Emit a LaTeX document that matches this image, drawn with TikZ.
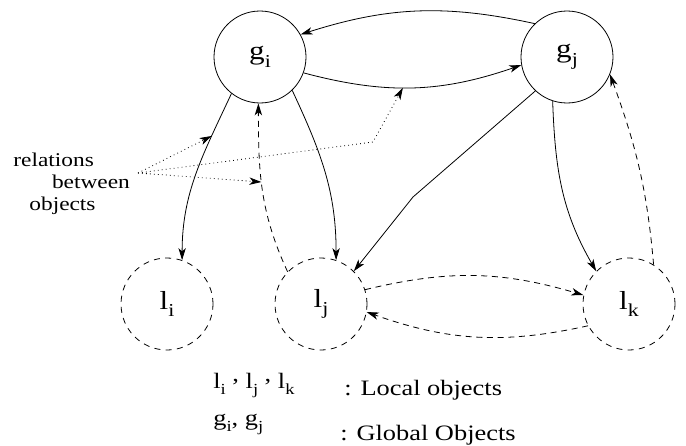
\documentclass[tikz,border=0pt]{standalone}
\usepackage{graphicx}
\usepackage{fontspec}
\setmainfont{Liberation Serif}[FakeStretch=1.2]
\usetikzlibrary{arrows.meta}
\newcommand{\lsub}[1]{\raisebox{-.3em}{\scalebox{.7}{#1}}}

\begin{document}
\begin{tikzpicture}[x=0.75pt, y=0.75pt, ->, >={Stealth[length=9pt,width=5.5pt,inset=2.5pt]}, node distance=231pt, line width=0.6pt]
\tikzstyle{gnd}=[circle,draw=black,minimum size=69pt,inner sep=0pt,font=\fontsize{19.5}{23}\selectfont]
\tikzstyle{lnd}=[gnd,dash pattern=on 4.5pt off 4pt]
\tikzstyle{rl}=[dash pattern=on 4.5pt off 3.5pt]
\tikzstyle{dt}=[dash pattern=on 0.6pt off 2.4pt]
\tikzstyle{txt}=[inner sep=0pt,anchor=base west,font=\fontsize{16.5}{20}\selectfont]
\useasboundingbox (0,0) rectangle (686,-446);
\node[gnd] (gi) at (260,-57)                             {g\lsub{i}};
\node[gnd] (gj) [right of=gi, node distance=230.25pt]    {g\lsub{j}};
\node[lnd] (li) at (167,-304)                            {l\lsub{i}};
\node[lnd] (lj) [right of=li, node distance=115.5pt]     {l\lsub{j}};
\node[lnd] (lk) [right of=lj]                            {l\lsub{k}};
\coordinate (kj) at (413,-197);
\path
(gj.134)  edge [bend right=15]       (gi.29)
(gi.-46)  edge [out=-65,in=90]       (lj.71)
(gj.-108) edge [out=-88,in=120]      (lk.135);
\draw (gi.-20) to[bend right=17] coordinate[pos=.45] (ongj) (gj.190);
\draw (gi.-128) to[out=-115,in=90] coordinate[pos=.25] (onli) (li.71);
\draw (gj.-133) -- (kj) -- (lj.45);
\path[rl]
(lk.58)   edge [out=95,in=-70]       (gj.-22)
(lj.18)   edge [bend left=15]        (lk.169)
(lk.-152) edge [bend left=16]        (lj.-10);
\draw[rl] (lj.136) to[out=115,in=-90] coordinate[pos=.55] (ongi) (gi.-92);
% relations
\node[font=\fontsize{14.6}{16.5}\selectfont,align=left,inner sep=0pt,anchor=north west] (reltxt) at (13,-153)
  {relations\\\hspace*{29pt}between\\\hspace*{12pt}objects};
\coordinate (rel) at (138,-173);
\coordinate (kr) at (373,-142);
\draw[dt] (rel) -- (onli);
\draw[dt] (rel) -- (kr) -- (ongj);
\draw[dt] (rel) -- (ongi);
% legend
\node[txt] (lgl)  at (213,-388) {l\lsub{i} \raisebox{.3em}{,} l\lsub{j} \raisebox{.3em}{,} l\lsub{k}};
\node[txt] (lgg)  at (213,-425) {g\lsub{i}, g\lsub{j}};
\node[txt] (lglo) at (344,-395) {: Local objects};
\node[txt] (lggo) at (340,-440) {: Global Objects};
\end{tikzpicture}
\end{document}
